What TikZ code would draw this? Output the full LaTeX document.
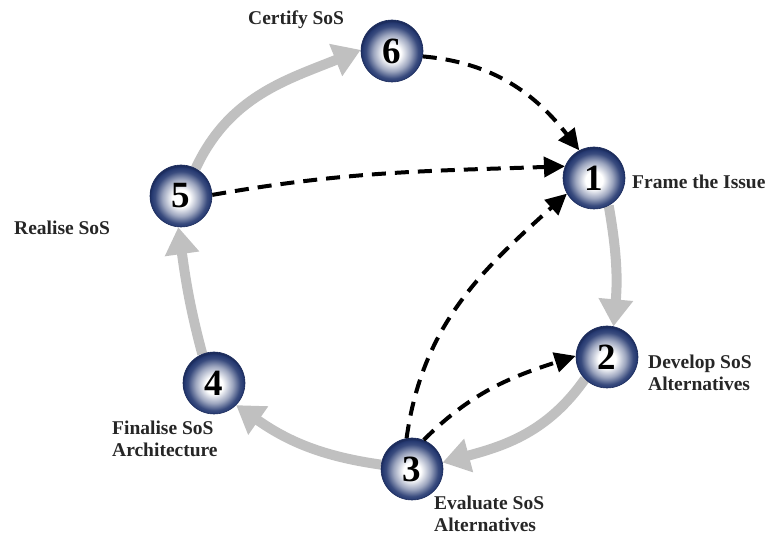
\documentclass[tikz,border=0pt]{standalone}
\usepackage{fontspec}
\setmainfont{Liberation Serif}
\usetikzlibrary{arrows.meta,backgrounds}
\definecolor{navyc}{RGB}{36,56,112}
\definecolor{navyd}{RGB}{28,44,92}
\definecolor{arrowgray}{RGB}{192,192,192}
\pgfdeclareradialshading{myball}{\pgfpoint{0bp}{-2bp}}{%
  color(0bp)=(white); color(7bp)=(white); color(15bp)=(navyc!45!white);
  color(21bp)=(navyc!90!white); color(24bp)=(navyc); color(25bp)=(navyd); color(50bp)=(navyd)}
\tikzset{
  stage/.style={circle, minimum size=62pt, inner sep=0pt, shading=myball,
    draw=navyd, line width=0.6pt, font=\fontsize{37}{37}\selectfont\bfseries},
  lbl/.style={anchor=west, align=left, inner sep=0pt,
    font=\fontsize{19.5}{21.5}\selectfont\bfseries, text=black!85},
  grayarr/.style={draw=arrowgray, line width=10pt,
    -{Triangle[length=27pt,width=33pt]}},
  dasharr/.style={draw=black, line width=4pt, dash pattern=on 14pt off 9pt,
    -{Triangle[length=21pt,width=20pt]}}
}
\begin{document}
\begin{tikzpicture}[x=1pt,y=1pt]
\useasboundingbox (0,0) rectangle (769,535);
\node[stage] (n6) at (392,484) {6};
\node[stage] (n1) at (594,357) {1};
\node[stage] (n5) at (181,339) {5};
\node[stage] (n2) at (607,178) {2};
\node[stage] (n4) at (214,152) {4};
\node[stage] (n3) at (412,66) {3};
% gray cycle arrows behind the nodes
\begin{scope}[on background layer]
\draw[grayarr] (n1.-62) to[out=-80,in=85] (n2.78);
\draw[grayarr] (n2.-135) to[out=-125,in=15] (n3.12);
\draw[grayarr] (n3.172) to[out=172,in=-35] (n4.-45);
\draw[grayarr] (n4.112) to[out=105,in=-82] (n5.-95);
\draw[grayarr] (n5.62) to[out=65,in=-158] (n6.178);
\end{scope}
% dashed arrows
\draw[dasharr] (n6.-10) to[out=-5,in=128] (n1.118);
\draw[dasharr] (n5.2) to[out=10,in=182] (n1.158);
\draw[dasharr] (n3.100) to[out=82,in=-138] (n1.-150);
\draw[dasharr] (n3.68) to[out=45,in=198] (n2.178);
% labels
\node[lbl] (l6) at (248,515) {Certify SoS};
\node[lbl] (l1) at (632,353) {Frame the Issue};
\node[lbl] (l5) at (14,307) {Realise SoS};
\node[lbl] (l2) at (648,162) {Develop SoS\\Alternatives};
\node[lbl] (l4) at (112,96) {Finalise SoS\\Architecture};
\node[lbl] (l3) at (434,21) {Evaluate SoS\\Alternatives};
\end{tikzpicture}
\end{document}
